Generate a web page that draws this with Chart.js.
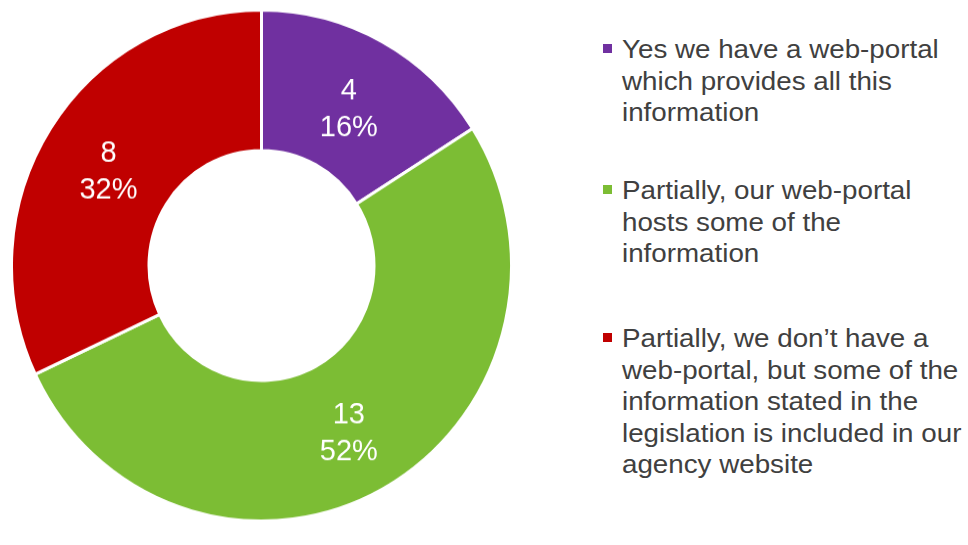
<!DOCTYPE html>
<html>
<head>
<meta charset="utf-8">
<script src="https://cdn.jsdelivr.net/npm/chart.js@4"></script>
<style>
  html, body { margin: 0; padding: 0; background: #fff; }
  body { width: 968px; height: 545px; position: relative; overflow: hidden; font-family: "Liberation Sans", Arial, sans-serif; }
  #donut { position: absolute; left: 10px; top: 14px; width: 503px; height: 503px; transform: scaleY(1.022); transform-origin: 50% 50%; }
  .item { position: absolute; left: 603px; font-size: 25px; line-height: 31.5px; color: #404040; white-space: nowrap; }
  .item i { position: absolute; left: 0; top: 10px; width: 9px; height: 9px; }
  .item span { display: block; margin-left: 19px; transform: scaleX(1.11); transform-origin: 0 0; }
</style>
</head>
<body>
<div id="donut"><canvas id="chart"></canvas></div>
<div id="legend"></div>
<script>
// answers, counts and slice colours
const categories = [
  ['Yes we have a web-portal', 'which provides all this', 'information'],
  ['Partially, our web-portal', 'hosts some of the', 'information'],
  ['Partially, we don\u2019t have a', 'web-portal, but some of the', 'information stated in the', 'legislation is included in our', 'agency website']
];
const counts = [4, 13, 8];
const colors = ['#7030A0', '#7CBD34', '#C00000'];
const legendTops = [34, 175, 323];

const total = counts.reduce((a, b) => a + b, 0);

// value + percentage inside each slice
const sliceLabels = {
  id: 'sliceLabels',
  afterDatasetsDraw(chart) {
    const ctx = chart.ctx;
    const meta = chart.getDatasetMeta(0);
    ctx.save();
    ctx.fillStyle = '#ffffff';
    ctx.font = '29px "Liberation Sans", Arial, sans-serif';
    ctx.textAlign = 'center';
    ctx.textBaseline = 'middle';
    meta.data.forEach((arc, i) => {
      const p = arc.tooltipPosition();
      const v = counts[i];
      ctx.fillText(String(v), p.x, p.y - 12);
      ctx.fillText(Math.round(v / total * 100) + '%', p.x, p.y + 24);
    });
    ctx.restore();
  }
};

new Chart(document.getElementById('chart'), {
  type: 'doughnut',
  data: {
    labels: categories,
    datasets: [{
      data: counts,
      backgroundColor: colors,
      borderColor: '#ffffff',
      borderWidth: 3
    }]
  },
  options: {
    responsive: true,
    maintainAspectRatio: false,
    animation: false,
    cutout: '45%',
    layout: { padding: 0 },
    plugins: {
      legend: { display: false },
      tooltip: { enabled: false }
    }
  },
  plugins: [sliceLabels]
});

// legend on the right
const legend = document.getElementById('legend');
categories.forEach((lines, i) => {
  const d = document.createElement('div');
  d.className = 'item';
  d.style.top = legendTops[i] + 'px';
  const sq = document.createElement('i');
  sq.style.background = colors[i];
  d.appendChild(sq);
  const txt = document.createElement('span');
  lines.forEach((t, j) => {
    if (j) txt.appendChild(document.createElement('br'));
    txt.appendChild(document.createTextNode(t));
  });
  d.appendChild(txt);
  legend.appendChild(d);
});
</script>
</body>
</html>
